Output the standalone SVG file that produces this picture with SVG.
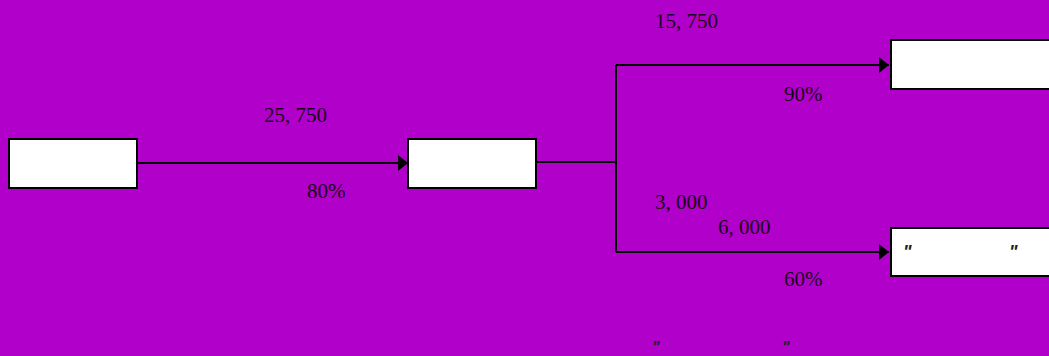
<svg xmlns="http://www.w3.org/2000/svg" width="1049" height="356" viewBox="0 0 1049 356">
<style>
.box{fill:#ffffff;stroke:#000000;stroke-width:2}
.ln{fill:none;stroke:#000000;stroke-width:2}
.t{font-family:"Liberation Serif","Noto Sans CJK SC",serif;font-size:21px;fill:#1a0020}
.q{font-family:"Liberation Sans",sans-serif;font-size:18px;font-style:italic;font-weight:bold;fill:#222222}
.qb{font-family:"Liberation Sans",sans-serif;font-size:16px;font-style:italic;font-weight:bold;fill:#222222}
</style>
<defs>
<marker id="ah" markerWidth="10" markerHeight="16" refX="10" refY="8" orient="auto" markerUnits="userSpaceOnUse">
<path d="M0,0 L10,8 L0,16 Z" fill="#000"/>
</marker>
</defs>
<rect width="1049" height="356" fill="#B100CA"/>
<g id="connectors">
<path class="ln" d="M137,163 L408,163" marker-end="url(#ah)"/>
<path class="ln" d="M536,162 L616,162"/>
<path class="ln" d="M616,65 L616,252"/>
<path class="ln" d="M616,65 L889,65" marker-end="url(#ah)"/>
<path class="ln" d="M616,252 L889,252" marker-end="url(#ah)"/>
</g>
<g id="node1"><rect class="box" x="9" y="139" width="128" height="49"/></g>
<g id="node2"><rect class="box" x="408" y="139" width="128" height="49"/></g>
<g id="node3"><rect class="box" x="891" y="40" width="162" height="49"/></g>
<g id="node4"><rect class="box" x="891" y="228" width="162" height="48"/>
<text class="q" x="903" y="258">"</text><text class="q" x="1009" y="258">"</text></g>
<g id="labels">
<text class="t" x="264" y="122">25, 750</text>
<text class="t" x="307" y="198">80%</text>
<text class="t" x="655" y="28">15, 750</text>
<text class="t" x="784" y="101">90%</text>
<text class="t" x="655" y="209">3, 000</text>
<text class="t" x="718" y="234">6, 000</text>
<text class="t" x="784" y="286">60%</text>
<text class="qb" x="652" y="353">"</text>
<text class="qb" x="782" y="353">"</text>
</g>
</svg>
